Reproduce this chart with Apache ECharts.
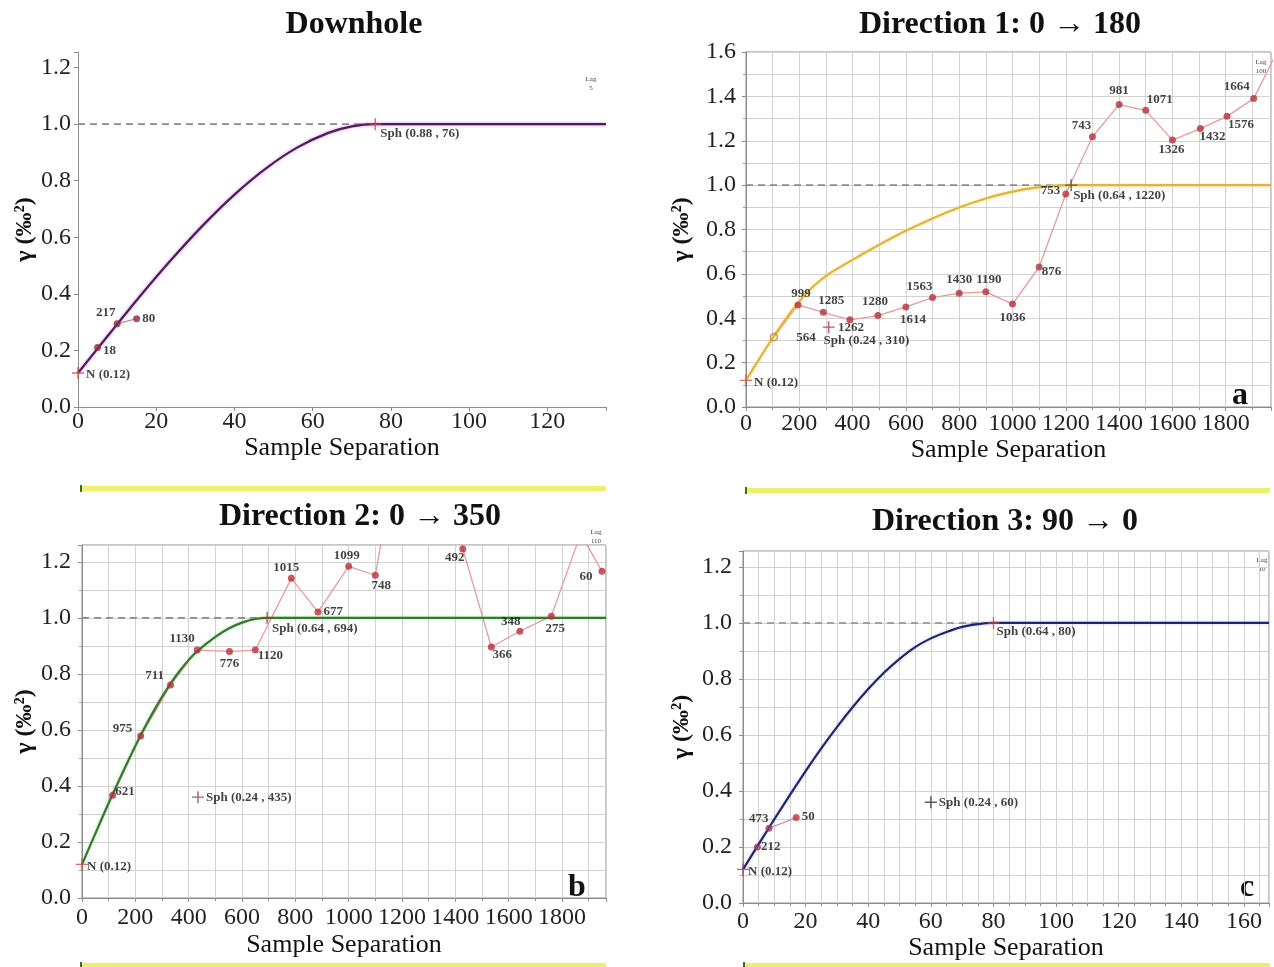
<!DOCTYPE html>
<html><head><meta charset="utf-8">
<script src="https://cdn.jsdelivr.net/npm/echarts@6/dist/echarts.min.js"></script>
<style>html,body{margin:0;padding:0;background:#fff;}#c{width:1274px;height:967px;}</style>
</head><body><div id="c"></div>
<script>
// ---------------- DATA ----------------
// Downhole
const dhLagX   = [5, 10, 15];
const dhGamma  = [0.21, 0.294, 0.312];
const dhPairs  = ['18', '217', '80'];
const dhModelX = [0, 8, 16, 24, 32, 40, 48, 56, 64, 70, 76, 135];
const dhModelY = [0.12, 0.258, 0.394, 0.523, 0.643, 0.751, 0.843, 0.917, 0.969, 0.992, 1.0, 1.0];
const dhStructX = [0, 76];
const dhStructY = [0.12, 1.0];
const dhStructText = ['N (0.12)', 'Sph (0.88 , 76)'];
const dhSill = 1.0, dhRange = 76;

// Direction 1: 0 -> 180 (a)
const aLagX  = [105, 195, 290, 390, 495, 600, 700, 800, 900, 1000, 1100, 1200, 1300, 1400, 1500, 1600, 1705, 1805, 1905, 2005];
const aGamma = [0.315, 0.46, 0.427, 0.393, 0.412, 0.451, 0.493, 0.513, 0.519, 0.464, 0.631, 0.96, 1.218, 1.363, 1.337, 1.203, 1.255, 1.31, 1.39, 1.63];
const aPairs = ['564', '999', '1285', '1262', '1280', '1614', '1563', '1430', '1190', '1036', '876', '753', '743', '981', '1071', '1326', '1432', '1576', '1664', ''];
const aModelX = [0, 50, 100, 150, 200, 250, 310, 400, 500, 600, 700, 800, 900, 1000, 1100, 1160, 1220, 1970];
const aModelY = [0.12, 0.217, 0.311, 0.398, 0.476, 0.541, 0.599, 0.663, 0.731, 0.794, 0.850, 0.899, 0.940, 0.971, 0.991, 0.998, 1.0, 1.0];
const aStructX = [0, 310, 1220];
const aStructY = [0.12, 0.36, 1.0];
const aStructText = ['N (0.12)', 'Sph (0.24 , 310)', 'Sph (0.64 , 1220)'];
const aSill = 1.0, aRange = 1220;

// Direction 2: 0 -> 350 (b)
const bLagX  = [115, 220, 332, 432, 553, 650, 785, 885, 1000, 1100, 1210, 1320, 1428, 1535, 1642, 1760, 1870, 1950];
const bGamma = [0.367, 0.578, 0.76, 0.885, 0.88, 0.885, 1.141, 1.021, 1.184, 1.152, 1.75, 1.8, 1.246, 0.896, 0.952, 1.006, 1.30, 1.166];
const bPairs = ['621', '975', '711', '1130', '776', '1120', '1015', '677', '1099', '748', '', '', '492', '366', '348', '275', '', '60'];
const bModelX = [0, 50, 100, 150, 200, 250, 300, 350, 400, 435, 500, 550, 600, 650, 694, 1965];
const bModelY = [0.12, 0.230, 0.339, 0.443, 0.543, 0.635, 0.718, 0.790, 0.850, 0.883, 0.932, 0.962, 0.983, 0.996, 1.0, 1.0];
const bStructX = [0, 435, 694];
const bStructY = [0.12, 0.36, 1.0];
const bStructText = ['N (0.12)', 'Sph (0.24 , 435)', 'Sph (0.64 , 694)'];
const bSill = 1.0, bRange = 694;

// Direction 3: 90 -> 0 (c)
const cLagX  = [4.6, 8.3, 17];
const cGamma = [0.2, 0.267, 0.305];
const cPairs = ['212', '473', '50'];
const cModelX = [0, 5, 10, 15, 20, 25, 30, 35, 40, 45, 50, 55, 60, 65, 70, 75, 80, 168];
const cModelY = [0.12, 0.210, 0.299, 0.386, 0.471, 0.552, 0.628, 0.699, 0.764, 0.822, 0.872, 0.914, 0.945, 0.968, 0.986, 0.996, 1.0, 1.0];
const cStructX = [0, 60, 80];
const cStructY = [0.12, 0.36, 1.0];
const cStructText = ['N (0.12)', 'Sph (0.24 , 60)', 'Sph (0.64 , 80)'];
const cSill = 1.0, cRange = 80;

const titles = ['Downhole', 'Direction 1: 0 \u2192 180', 'Direction 2: 0 \u2192 350', 'Direction 3: 90 \u2192 0'];
const lagTexts = ['5', '100', '110', '10'];
const panelLetters = ['', 'a', 'b', 'c'];

// ---------------- LABEL PLACEMENT (style only) ----------------
const dhLabelPos = [['right',0,3], ['left',4,-11], ['right',0,0]];
const dhStructPos = [['right',0,2], ['right',-3,10]];
const aLabelPos = [['right',16,1], ['top',3,1], ['top',8,0], ['bottom',1,-4], ['top',-3,-2], ['bottom',7,1], ['top',-13,1], ['top',0,-2], ['top',3,0], ['bottom',0,2], ['right',-3,5], ['left',0,-3], ['top',-11,1], ['top',0,-2], ['top',14,1], ['bottom',-1,-2], ['bottom',12,-4], ['bottom',14,-4], ['top',-17,0], ['top',0,0]];
const aStructPos = [['right',0,2], ['right',-13,14], ['right',-6,11]];
const bLabelPos = [['right',-3,-4], ['left',-3,-7], ['left',-1,-9], ['top',-15,1], ['bottom',0,0], ['right',-3,6], ['top',-5,1], ['right',0,0], ['top',-2,1], ['bottom',6,-2], ['top',0,0], ['top',0,0], ['bottom',-8,-3], ['bottom',11,-4], ['top',-9,2], ['bottom',4,0], ['top',0,0], ['left',-4,5]];
const bStructPos = [['right',-3,2], ['right',0,0], ['right',-3,11]];
const cLabelPos = [['right',-2,0], ['left',5,-10], ['right',0,-1]];
const cStructPos = [['right',-3,2], ['right',0,0], ['right',-5,9]];

// ---------------- BUILD ----------------
const SERIF = '"Liberation Serif","Times New Roman",serif';
const PLUS = 'path://M4.4,0H5.6V4.4H10V5.6H5.6V10H4.4V5.6H0V4.4H4.4Z';
const zip = (xs, ys) => xs.map((x, i) => [x, ys[i]]);
const fmt = (step, dec) => v => (Math.abs(v / step - Math.round(v / step)) < 1e-6) ? v.toFixed(dec) : '';

const panels = [
  { grid: {left: 78, top: 52, right: 668, bottom: 560}, border: false,
    xMax: 135, xInt: 20, xMinor: 0, yMax: 1.255, yInt: 0.2,
    xNameGap: 25, yNameGap: 38, xMargin: 3, yMargin: 7,
    lagX: dhLagX, gamma: dhGamma, pairs: dhPairs, pos: dhLabelPos,
    mX: dhModelX, mY: dhModelY, sX: dhStructX, sY: dhStructY, sT: dhStructText, sPos: dhStructPos,
    sill: dhSill, range: dhRange,
    modelColor: '#4b1f5c', glow: 'rgba(225,110,220,0.85)', expColor: '#d0809a', ptColor: '#8c2a40', crossColors: ['#d04848', '#d04848'] },
  { grid: {left: 746, top: 52, right: 2, bottom: 560}, border: true,
    xMax: 1970, xInt: 200, xMinor: 2, yMax: 1.6, yInt: 0.2,
    xNameGap: 30, yNameGap: 52, xMargin: 5, yMargin: 10,
    lagX: aLagX, gamma: aGamma, pairs: aPairs, pos: aLabelPos,
    mX: aModelX, mY: aModelY, sX: aStructX, sY: aStructY, sT: aStructText, sPos: aStructPos,
    sill: aSill, range: aRange,
    modelColor: '#e2b43c', glow: 'rgba(245,215,120,0.8)', expColor: '#e89a9a', ptColor: '#b8303a', crossColors: ['#d04848', '#b03040', '#444'] },
  { grid: {left: 82, top: 545, right: 668, bottom: 69}, border: true,
    xMax: 1965, xInt: 200, xMinor: 2, yMax: 1.26, yInt: 0.2,
    xNameGap: 34, yNameGap: 44, xMargin: 8, yMargin: 11,
    lagX: bLagX, gamma: bGamma, pairs: bPairs, pos: bLabelPos,
    mX: bModelX, mY: bModelY, sX: bStructX, sY: bStructY, sT: bStructText, sPos: bStructPos,
    sill: bSill, range: bRange,
    modelColor: '#2f7a2c', glow: 'rgba(120,190,110,0.5)', expColor: '#e89a9a', ptColor: '#b8303a', crossColors: ['#d04848', '#a03050', '#b03040'] },
  { grid: {left: 743, top: 551, right: 5, bottom: 64}, border: true,
    xMax: 168, xInt: 20, xMinor: 4, yMax: 1.257, yInt: 0.2,
    xNameGap: 29, yNameGap: 49, xMargin: 7, yMargin: 11,
    lagX: cLagX, gamma: cGamma, pairs: cPairs, pos: cLabelPos,
    mX: cModelX, mY: cModelY, sX: cStructX, sY: cStructY, sT: cStructText, sPos: cStructPos,
    sill: cSill, range: cRange,
    modelColor: '#1d2670', glow: 'rgba(120,130,210,0.4)', expColor: '#c98ab8', ptColor: '#9a3a62', crossColors: ['#a04060', '#333', '#d04848'] }
];

const grids = [], xAxes = [], yAxes = [], series = [];
const lblStyle = {fontFamily: SERIF, fontWeight: 'bold', fontSize: 13, color: '#111', distance: 2};
const gridLineColor = '#d2d2d2';

panels.forEach((p, i) => {
  grids.push(Object.assign({show: p.border, borderColor: '#8c8c8c', borderWidth: 1, backgroundColor: 'transparent', containLabel: false}, p.grid));
  xAxes.push({
    gridIndex: i, type: 'value', min: 0, max: p.xMax, interval: p.xInt,
    name: 'Sample Separation', nameLocation: 'middle', nameGap: p.xNameGap,
    nameTextStyle: {fontFamily: SERIF, fontSize: 26, color: '#111'},
    axisLine: {show: true, onZero: false, lineStyle: {color: '#8c8c8c', width: 1}},
    axisTick: {show: true, length: 4, lineStyle: {color: '#8c8c8c'}},
    minorTick: {show: p.border, splitNumber: p.xMinor || 5, length: 3, lineStyle: {color: '#8c8c8c'}},
    axisLabel: {fontFamily: SERIF, fontSize: 24, color: '#222', margin: p.xMargin, formatter: fmt(p.xInt, 0)},
    splitLine: {show: p.border, lineStyle: {color: gridLineColor, width: 1}},
    minorSplitLine: {show: p.border, lineStyle: {color: gridLineColor, width: 1}}
  });
  yAxes.push({
    gridIndex: i, type: 'value', min: 0, max: p.yMax, interval: p.yInt,
    name: '\u03b3 (\u2030\u00b2)', nameLocation: 'middle', nameGap: p.yNameGap,
    nameTextStyle: {fontFamily: SERIF, fontSize: 24, fontWeight: 'bold', color: '#111'},
    axisLine: {show: true, lineStyle: {color: '#8c8c8c', width: 1}},
    axisTick: {show: true, length: 4, lineStyle: {color: '#8c8c8c'}},
    minorTick: {show: p.border, splitNumber: 2, length: 3, lineStyle: {color: '#9c9c9c'}},
    axisLabel: {fontFamily: SERIF, fontSize: 24, color: '#222', margin: p.yMargin, formatter: fmt(p.yInt, 1)},
    splitLine: {show: p.border, lineStyle: {color: gridLineColor, width: 1}},
    minorSplitLine: {show: p.border, lineStyle: {color: gridLineColor, width: 1}}
  });
  // sill dashed
  series.push({type: 'line', xAxisIndex: i, yAxisIndex: i, z: 2, silent: true, symbol: 'none',
    data: [[0, p.sill], [p.range, p.sill]],
    lineStyle: {color: '#8a8a8a', width: 1.6, type: [7, 5]}});
  // experimental line
  series.push({type: 'line', xAxisIndex: i, yAxisIndex: i, z: 3, silent: true, symbol: 'none', clip: true,
    data: zip(p.lagX, p.gamma), lineStyle: {color: p.expColor, width: 1.3}});
  // model curve
  series.push({type: 'line', xAxisIndex: i, yAxisIndex: i, z: 4, silent: true, symbol: 'none',
    smooth: 0.3, data: zip(p.mX, p.mY),
    lineStyle: {color: p.modelColor, width: 2.2, shadowColor: p.glow, shadowBlur: 3}});
  // experimental points with pair counts
  series.push({type: 'scatter', xAxisIndex: i, yAxisIndex: i, z: 6, clip: true, symbolSize: 7,
    itemStyle: {color: p.ptColor},
    data: p.lagX.map((x, k) => {
      const d = {value: [x, p.gamma[k]], label: {show: p.pairs[k] !== '', formatter: p.pairs[k],
        position: p.pos[k][0], offset: [p.pos[k][1], p.pos[k][2]]}};
      if (i === 1 && k === 0) d.itemStyle = {color: 'rgba(255,255,255,0)', borderColor: '#c8843a', borderWidth: 1.6};
      if (i === 3 && k === 2) d.itemStyle = {color: '#c0303a'};
      return d;
    }),
    label: Object.assign({}, lblStyle)});
  // nugget / structure crosses
  series.push({type: 'scatter', xAxisIndex: i, yAxisIndex: i, z: 7, clip: false, symbol: PLUS, symbolSize: 12,
    data: p.sX.map((x, k) => ({value: [x, p.sY[k]], itemStyle: {color: p.crossColors[k]},
      label: {show: true, formatter: p.sT[k], position: p.sPos[k][0], offset: [p.sPos[k][1], p.sPos[k][2]]}})),
    label: Object.assign({}, lblStyle)});
});

// decorations
const graphics = [];
const titlePos = [[354, 25], [1000, 25], [360, 517], [1005, 522]];
titles.forEach((t, i) => graphics.push({type: 'text', x: titlePos[i][0], y: titlePos[i][1], silent: true,
  style: {text: t, fontFamily: SERIF, fontWeight: 'bold', fontSize: 32, fill: '#111',
    align: 'center', verticalAlign: 'middle', textAlign: 'center', textVerticalAlign: 'middle'}}));
const lagPos = [[591, 75], [1261, 58], [596, 528], [1262, 556]];
lagTexts.forEach((t, i) => graphics.push({type: 'text', x: lagPos[i][0], y: lagPos[i][1], silent: true,
  style: {text: 'Lag\n' + t, fontFamily: SERIF, fontSize: 7, lineHeight: 9, fill: '#444',
    align: 'center', textAlign: 'center', verticalAlign: 'top', textVerticalAlign: 'top'}}));
const letterPos = [[0, 0], [1240, 396], [577, 888], [1247, 888]];
panelLetters.forEach((t, i) => { if (t) graphics.push({type: 'text', x: letterPos[i][0], y: letterPos[i][1], silent: true,
  style: {text: t, fontFamily: SERIF, fontWeight: 'bold', fontSize: 32, fill: '#111',
    align: 'center', textAlign: 'center', verticalAlign: 'middle', textVerticalAlign: 'middle'}}); });
const barPos = [[80, 486, 526], [745, 488, 525], [80, 963, 526], [743, 963, 527]];
barPos.forEach(b => {
  graphics.push({type: 'rect', silent: true, shape: {x: b[0], y: b[1], width: b[2], height: 5}, style: {fill: '#eef06c'}});
  graphics.push({type: 'rect', silent: true, shape: {x: b[0], y: b[1] - 1, width: 2, height: 7}, style: {fill: '#3d6b2c'}});
});

const chart = echarts.init(document.getElementById('c'));
chart.setOption({
  animation: false,
  backgroundColor: '#ffffff',
  grid: grids, xAxis: xAxes, yAxis: yAxes, series: series,
  graphic: graphics
});
</script>
</body></html>
